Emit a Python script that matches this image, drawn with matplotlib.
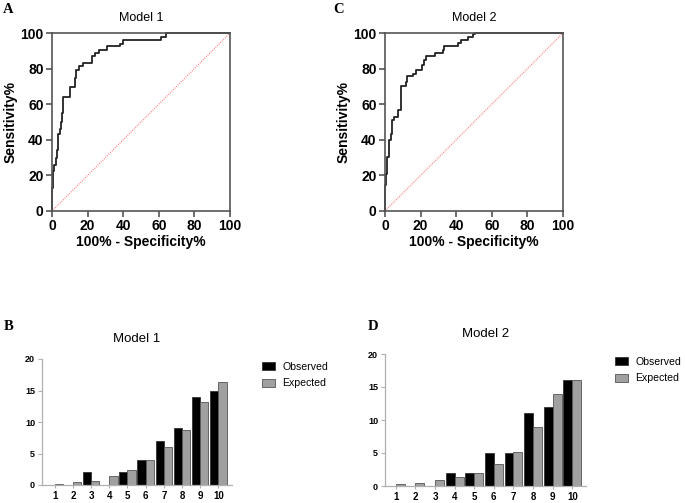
import numpy as np
import matplotlib
matplotlib.use("Agg")
from matplotlib import pyplot as plt
from matplotlib.patches import Patch

plt.rcParams['font.family'] = ['Liberation Sans', 'DejaVu Sans']

# ROC curve breakpoints: (1 - specificity, sensitivity) in %, step-post
roc1_fpr = [0, 0, 0.6, 1, 2, 2.8, 3.2, 4.3, 5, 5.6, 6.4, 10, 12.9, 13.5, 15.4, 17.6,
            22.3, 24, 26.6, 30.7, 38, 40, 61, 64, 100]
roc1_tpr = [0, 13, 22.5, 26, 30, 34, 43, 46, 50, 55, 64, 69.5, 75, 79, 81.5, 83,
            87, 89, 90.5, 92.5, 94, 96, 98, 100, 100]

roc2_fpr = [0, 0, 0.6, 1.3, 2.2, 3.2, 3.7, 5.2, 7.5, 9, 11.8, 12.5, 15.9, 17.4, 21,
            22, 23, 28, 32.7, 33.3, 41, 42.6, 46.7, 49.5, 50.5, 100]
roc2_tpr = [0, 14.6, 21, 30.5, 40, 43.5, 51, 53, 56.6, 70, 72.5, 75.7, 77, 79.4, 82,
            84.7, 87, 89, 90.3, 92.5, 94.4, 96.3, 98, 99.3, 100, 100]

# calibration (Hosmer-Lemeshow) groups
groups = [1, 2, 3, 4, 5, 6, 7, 8, 9, 10]
obs1 = [0, 0, 2, 0, 2, 4, 7, 9, 14, 15]
exp1 = [0.1, 0.4, 0.7, 1.4, 2.4, 3.9, 6.1, 8.7, 13.2, 16.3]
obs2 = [0, 0, 0, 2, 2, 5, 5, 11, 12, 16]
exp2 = [0.3, 0.5, 0.9, 1.3, 2.0, 3.4, 5.2, 9.0, 14.0, 16.0]

W, H = 685, 503
fig = plt.figure(figsize=(W / 100, H / 100), dpi=100)


def box(x0, y0, x1, y1):
    # pixel box (top-left origin) -> figure fraction rect
    return [x0 / W, 1 - y1 / H, (x1 - x0) / W, (y1 - y0) / H]


def roc_panel(rect, fpr, tpr, title):
    ax = fig.add_axes(rect)
    ax.plot([0, 100], [0, 100], color='#ff8080', lw=0.8, linestyle=(0, (1, 1)))
    ax.step(fpr, tpr, where='post', color='#222222', lw=1.3, clip_on=False)
    ax.set_xlim(0, 100)
    ax.set_ylim(0, 100)
    ax.set_xticks(range(0, 101, 20))
    ax.set_yticks(range(0, 101, 20))
    for s in ax.spines.values():
        s.set_color('#555555')
        s.set_linewidth(1.2)
    ax.tick_params(direction='out', length=4, width=1.2, color='#555555', pad=2)
    for lab in ax.get_xticklabels() + ax.get_yticklabels():
        lab.set_fontsize(10)
        lab.set_fontweight('bold')
    ax.set_xlabel('100% - Specificity%', fontsize=10, fontweight='bold', labelpad=1)
    ax.set_ylabel('Sensitivity%', fontsize=10, fontweight='bold', labelpad=2)
    ax.set_title(title, fontsize=9, pad=9)
    return ax


def bar_panel(rect, obs, exp, title, xlim, leg_xy):
    ax = fig.add_axes(rect)
    x = np.array(groups)
    w = 0.455
    ax.bar(x - w / 2, obs, w, color='black', edgecolor='#333333', lw=0.6, label='Observed')
    ax.bar(x + w / 2, exp, w, color='#a0a0a0', edgecolor='#555555', lw=0.6, label='Expected')
    ax.set_xlim(*xlim)
    ax.set_ylim(0, 20)
    ax.set_yticks([0, 5, 10, 15, 20])
    ax.set_xticks(groups)
    for side in ['top', 'right']:
        ax.spines[side].set_visible(False)
    for side in ['left', 'bottom']:
        ax.spines[side].set_color('#b0b0b0')
        ax.spines[side].set_linewidth(0.9)
    ax.tick_params(axis='y', direction='out', length=3, width=0.8, color='#b0b0b0', pad=2, labelsize=6.5)
    ax.tick_params(axis='x', direction='out', length=2, width=0.8, color='#b0b0b0', pad=2, labelsize=7)
    for lab in ax.get_xticklabels() + ax.get_yticklabels():
        lab.set_fontweight('bold')
    ax.set_title(title, fontsize=9.5, pad=12)
    handles = [Patch(facecolor='black', edgecolor='#333333', lw=0.6, label='Observed'),
               Patch(facecolor='#a0a0a0', edgecolor='#555555', lw=0.6, label='Expected')]
    fig.legend(handles=handles, loc='upper left', bbox_to_anchor=leg_xy, frameon=False,
               fontsize=7.6, handlelength=1.25, handleheight=0.8, handletextpad=0.65,
               labelspacing=0.6, borderaxespad=0, borderpad=0)
    return ax


roc_panel(box(52, 33, 230, 211), roc1_fpr, roc1_tpr, 'Model 1')
roc_panel(box(385, 33, 563, 211), roc2_fpr, roc2_tpr, 'Model 2')
bar_panel(box(42, 359, 232, 485), obs1, exp1, 'Model 1', (0.3, 10.75), (262 / W, 1 - 362 / H))
bar_panel(box(385, 354, 586, 486), obs2, exp2, 'Model 2', (0.45, 10.7), (615 / W, 1 - 357 / H))

for letter, px, py in [('A', 3, 3), ('C', 333, 3), ('B', 4, 320), ('D', 368, 320)]:
    fig.text(px / W, 1 - py / H, letter, fontsize=10.5, fontweight='bold',
             family='Liberation Serif', va='top', ha='left')

fig.savefig('out.png', dpi=100)
